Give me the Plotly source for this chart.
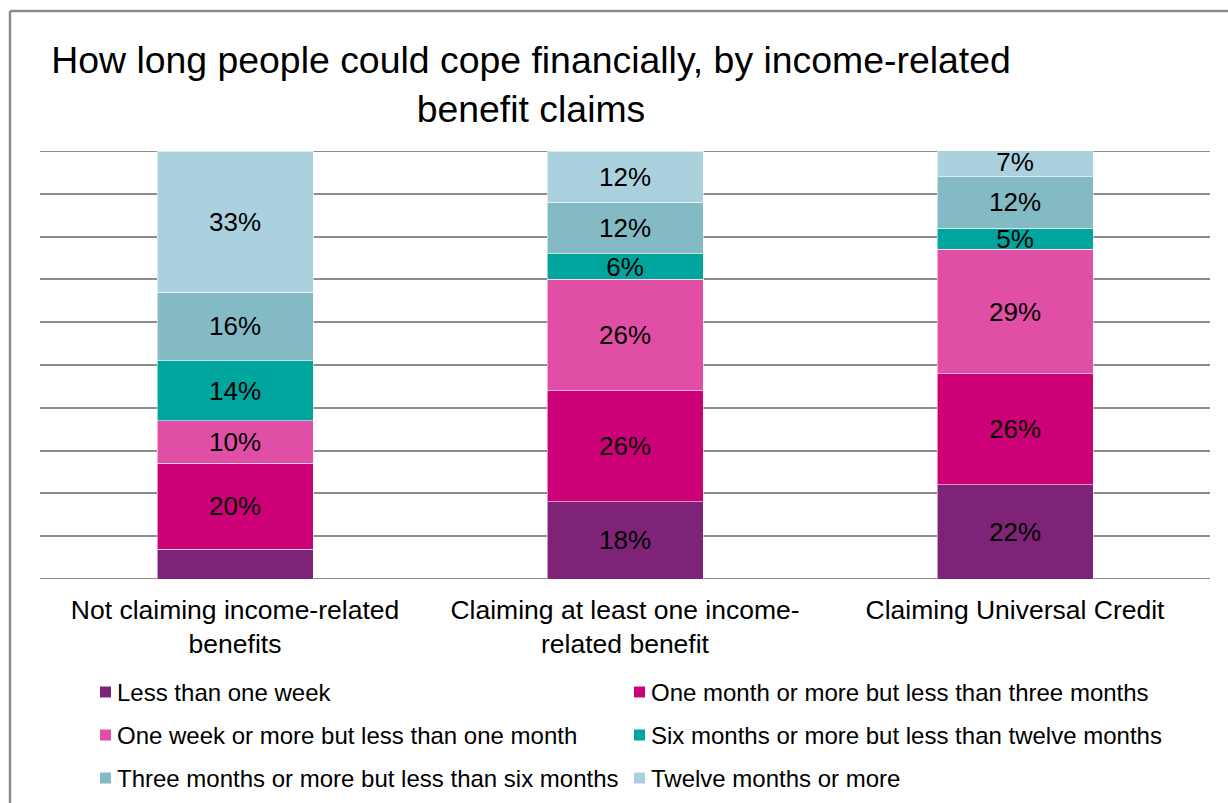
import plotly.graph_objects as go

# Categories (x axis)
categories = [
    "Not claiming income-related<br>benefits",
    "Claiming at least one income-<br>related benefit",
    "Claiming Universal Credit",
]

# Series, in stacking order (bottom to top), values in %
series_names = [
    "Less than one week",
    "One month or more but less than three months",
    "One week or more but less than one month",
    "Six months or more but less than twelve months",
    "Three months or more but less than six months",
    "Twelve months or more",
]
less_than_one_week = [7, 18, 22]
one_to_three_months = [20, 26, 26]
one_week_to_one_month = [10, 26, 29]
six_to_twelve_months = [14, 6, 5]
three_to_six_months = [16, 12, 12]
twelve_months_plus = [33, 12, 7]

series_values = [
    less_than_one_week,
    one_to_three_months,
    one_week_to_one_month,
    six_to_twelve_months,
    three_to_six_months,
    twelve_months_plus,
]
series_colors = ["#7F2378", "#CE0078", "#E14EA5", "#00A59E", "#84BAC3", "#ABD1DF"]

# segments drawn without a value label (series index, category index)
unlabeled = {(0, 0)}

FONT = "Liberation Sans, Arial, sans-serif"
W, H = 1228, 803
L, R, T, B = 40, 18, 151, 224
PW, PH = W - L - R, H - T - B
GRID = "#8C8C8C"


def px_to_paper(x, y):
    return (x - L) / PW, (H - B - y) / PH


fig = go.Figure()
for si, (name, vals, col) in enumerate(zip(series_names, series_values, series_colors)):
    labels = ["" if (si, ci) in unlabeled else f"{v}%" for ci, v in enumerate(vals)]
    fig.add_trace(go.Bar(
        x=categories,
        y=vals,
        name=name,
        marker=dict(color=col, line=dict(color="rgba(255,255,255,0.55)", width=1)),
        text=labels,
        textposition="inside",
        insidetextanchor="middle",
        textangle=0,
        constraintext="none",
        insidetextfont=dict(family=FONT, size=26, color="#000000"),
        width=0.4,
        showlegend=False,
        hoverinfo="skip",
    ))

# Gridlines at the axis ends (0% and 100%), beneath the bars
for yv in (0, 100):
    fig.add_shape(type="line", xref="paper", yref="y", x0=0, x1=1, y0=yv, y1=yv,
                  layer="below", line=dict(color=GRID, width=2))

# Legend drawn as two columns of square swatches with labels
legend_cols_x = [100, 634]
legend_rows_y = [692, 735, 778]
sw = 11
for i, (name, col) in enumerate(zip(series_names, series_colors)):
    cx = legend_cols_x[i % 2]
    cy = legend_rows_y[i // 2]
    x0, y0 = px_to_paper(cx, cy + sw / 2)
    x1, y1 = px_to_paper(cx + sw, cy - sw / 2)
    fig.add_shape(type="rect", xref="paper", yref="paper", x0=x0, x1=x1, y0=y0, y1=y1,
                  fillcolor=col, line=dict(width=0))
    tx, ty = px_to_paper(cx + sw + 4, cy)
    fig.add_annotation(xref="paper", yref="paper", x=tx, y=ty, xanchor="left", yanchor="middle",
                       text=name, showarrow=False, font=dict(family=FONT, size=24, color="#000000"))

# Outer frame (left and top edges)
fx0, fy0 = px_to_paper(10, 11)
fx1, fy1 = px_to_paper(W + 2, H + 2)
fig.add_shape(type="line", xref="paper", yref="paper", x0=fx0, x1=fx0, y0=fy0, y1=fy1,
              line=dict(color=GRID, width=2.5))
fig.add_shape(type="line", xref="paper", yref="paper", x0=fx0, x1=fx1, y0=fy0, y1=fy0,
              line=dict(color=GRID, width=2.5))

fig.update_layout(
    width=W,
    height=H,
    margin=dict(l=L, r=R, t=T, b=B, pad=0),
    paper_bgcolor="white",
    plot_bgcolor="white",
    barmode="stack",
    font=dict(family=FONT, color="#000000"),
    title=dict(
        text="How long people could cope financially, by income-related<br>benefit claims",
        x=531 / W,
        xanchor="center",
        xref="container",
        y=1 - 73 / H,
        yanchor="top",
        yref="container",
        font=dict(family=FONT, size=37.4, color="#000000"),
    ),
    xaxis=dict(
        showgrid=False,
        showline=False,
        zeroline=False,
        ticks="",
        tickfont=dict(family=FONT, size=26.5, color="#000000"),
        ticklabelstandoff=12,
    ),
    yaxis=dict(
        range=[0, 100],
        tickvals=list(range(0, 101, 10)),
        showgrid=True,
        gridcolor=GRID,
        gridwidth=2,
        zeroline=False,
        showline=False,
        showticklabels=False,
        ticks="",
    ),
)

fig.write_html("out.html")
